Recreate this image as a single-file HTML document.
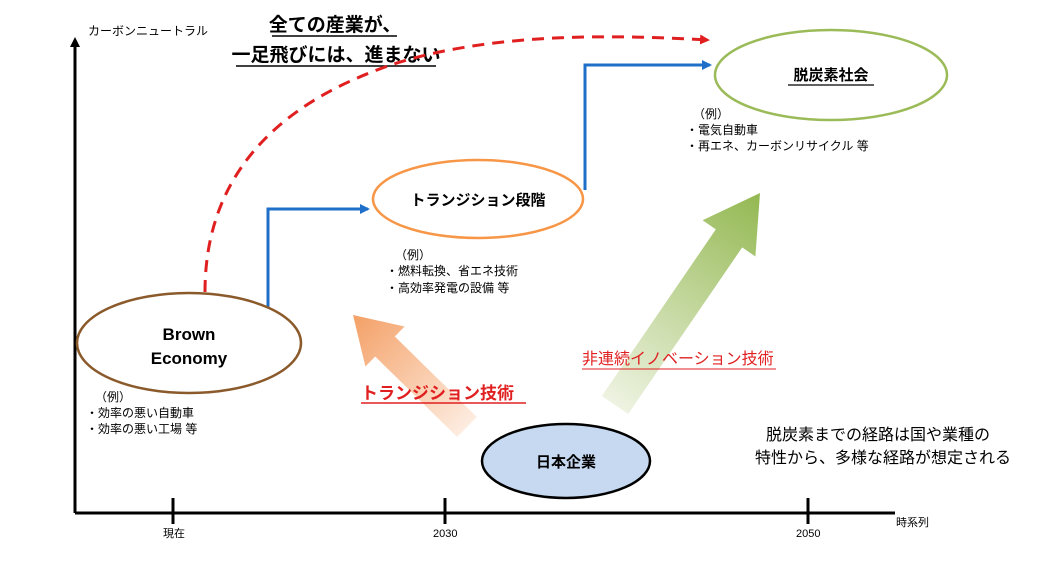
<!DOCTYPE html>
<html><head><meta charset="utf-8"><style>
html,body{margin:0;padding:0;background:#fff;}
svg{display:block;font-family:"Liberation Sans","Noto Sans CJK JP",sans-serif;}
</style></head><body>
<svg width="1042" height="563" viewBox="0 0 1042 563">
<defs>
<linearGradient id="og" x1="467" y1="427" x2="353" y2="315" gradientUnits="userSpaceOnUse">
<stop offset="0" stop-color="#fdece0"/><stop offset="1" stop-color="#f4a066"/></linearGradient>
<linearGradient id="gg" x1="615" y1="405" x2="760" y2="193" gradientUnits="userSpaceOnUse">
<stop offset="0" stop-color="#eef3e2"/><stop offset="1" stop-color="#93b851"/></linearGradient>
<marker id="bk" markerWidth="10" markerHeight="10" refX="5" refY="5" orient="auto" markerUnits="userSpaceOnUse"><path d="M0,0 L10,5 L0,10z" fill="#000"/></marker>
<marker id="bl" markerWidth="10" markerHeight="10" refX="8" refY="5" orient="auto" markerUnits="userSpaceOnUse"><path d="M0,0 L10,5 L0,10z" fill="#1f6fc8"/></marker>
<marker id="rd" markerWidth="10" markerHeight="10" refX="8" refY="5" orient="auto" markerUnits="userSpaceOnUse"><path d="M0,0 L10,5 L0,10z" fill="#e02020"/></marker>
</defs>
<line x1="75" y1="513" x2="75" y2="42" stroke="#000" stroke-width="3" marker-end="url(#bk)"/>
<line x1="75" y1="513" x2="895" y2="513" stroke="#000" stroke-width="3"/>
<g stroke="#000" stroke-width="3"><line x1="173" y1="498" x2="173" y2="524"/><line x1="445" y1="498" x2="445" y2="524"/><line x1="808" y1="498" x2="808" y2="524"/></g>
<g font-size="11" fill="#000"><text x="163" y="537">現在</text><text x="433" y="537">2030</text><text x="796" y="537">2050</text><text x="896" y="526">時系列</text>
<text x="88" y="35" font-size="12">カーボンニュートラル</text></g>
<g font-size="19" font-weight="bold" fill="#000" text-anchor="middle"><text x="335" y="31">全ての産業が、</text><text x="336" y="61">一足飛びには、進まない</text></g>
<line x1="272" y1="36" x2="397" y2="36" stroke="#000" stroke-width="1.5"/>
<line x1="236" y1="66" x2="436" y2="66" stroke="#000" stroke-width="1.5"/>
<path d="M205,292 C205,200 250,110 400,62 C500,32 620,35 708,40" fill="none" stroke="#e02020" stroke-width="3" stroke-dasharray="12,8" marker-end="url(#rd)"/>
<path d="M268,336 L268,209 L368,209" fill="none" stroke="#1f6fc8" stroke-width="3" marker-end="url(#bl)"/>
<path d="M585,190 L585,65 L710,65" fill="none" stroke="#1f6fc8" stroke-width="3" marker-end="url(#bl)"/>
<polygon points="476.8,417 457.2,437 375.2,356.5 365.4,366.5 353,315 404.6,326.5 394.8,336.5" fill="url(#og)"/>
<polygon points="601.8,396 715.8,229.4 702.6,220.3 760,193 755.4,256.5 742.2,247.4 628.2,414" fill="url(#gg)"/>
<ellipse cx="189" cy="343" rx="112" ry="50" fill="#fff" stroke="#8b5a2b" stroke-width="2.5"/>
<g font-size="17" font-weight="bold" text-anchor="middle"><text x="189" y="340">Brown</text><text x="189" y="364">Economy</text></g>
<ellipse cx="478" cy="199" rx="105" ry="39" fill="#fff" stroke="#f79646" stroke-width="2.5"/>
<text x="478" y="205" font-size="15" font-weight="bold" text-anchor="middle">トランジション段階</text>
<ellipse cx="831" cy="75" rx="116" ry="45" fill="#fff" stroke="#9bbb59" stroke-width="2.5"/>
<text x="831" y="80" font-size="15" font-weight="bold" text-anchor="middle">脱炭素社会</text>
<line x1="788" y1="85" x2="874" y2="85" stroke="#000" stroke-width="1.2"/>
<ellipse cx="566" cy="461" rx="84" ry="37" fill="#c6d9f1" stroke="#000" stroke-width="2.5"/>
<text x="566" y="467" font-size="15" font-weight="bold" text-anchor="middle">日本企業</text>
<g font-size="12" fill="#000">
<text x="95" y="401">（例）</text><text x="86" y="417">・効率の悪い自動車</text><text x="86" y="433">・効率の悪い工場 等</text>
<text x="395" y="259">（例）</text><text x="386" y="275">・燃料転換、省エネ技術</text><text x="386" y="292">・高効率発電の設備 等</text>
<text x="693" y="118">（例）</text><text x="686" y="134">・電気自動車</text><text x="686" y="150">・再エネ、カーボンリサイクル 等</text>
</g>
<text x="361" y="399" font-size="17" font-weight="bold" fill="#e02020">トランジション技術</text>
<line x1="361" y1="403" x2="526" y2="403" stroke="#e02020" stroke-width="1.5"/>
<text x="582" y="364" font-size="16" fill="#e02020">非連続イノベーション技術</text>
<line x1="582" y1="369" x2="776" y2="369" stroke="#e02020" stroke-width="1"/>
<g font-size="16" fill="#000"><text x="766" y="440">脱炭素までの経路は国や業種の</text><text x="755" y="463">特性から、多様な経路が想定される</text></g>
</svg>
</body></html>
